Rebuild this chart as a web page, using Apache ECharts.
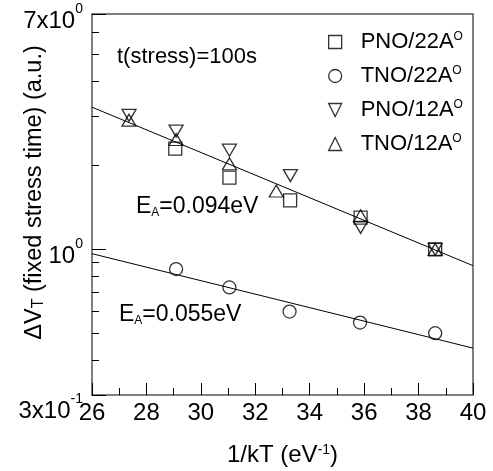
<!DOCTYPE html>
<html>
<head>
<meta charset="utf-8">
<script src="https://cdn.jsdelivr.net/npm/echarts@6/dist/echarts.min.js"></script>
<style>
  html, body { margin: 0; padding: 0; background: #fff; }
  #chart { width: 493px; height: 471px; }
</style>
</head>
<body>
<div id="chart"></div>
<script>
// Threshold-voltage shift after a fixed 100 s stress versus 1/kT, log scale.
const seriesNames = ['PNO/22A', 'TNO/22A', 'PNO/12A', 'TNO/12A'];

// [1/kT (eV^-1), dVT (a.u.)]
const pno22 = [[29.06, 2.30], [31.05, 1.81], [33.28, 1.50], [35.87, 1.30], [38.61, 1.00]];
const tno22 = [[29.09, 0.85], [31.05, 0.73], [33.26, 0.598], [35.85, 0.546], [38.61, 0.50]];
const pno12 = [[27.36, 3.03], [29.09, 2.66], [31.05, 2.27], [33.29, 1.84], [35.87, 1.20], [38.61, 1.00]];
const tno12 = [[27.36, 2.91], [29.09, 2.48], [31.05, 2.03], [32.77, 1.62], [35.87, 1.32], [38.61, 1.00]];

// Arrhenius fits (end points over the axis range)
const fitHigh = [[26, 3.24], [40, 0.874]];   // EA = 0.094 eV
const fitLow = [[26, 0.965], [40, 0.442]];   // EA = 0.055 eV

const xMin = 26, xMax = 40, xStep = 2;
const yMin = 0.3, yMax = 7;
const yMajorTicks = [0.3, 1, 7];
const yMinorTicks = [0.4, 0.5, 0.6, 0.7, 0.8, 0.9, 2, 3, 4, 5, 6];
const yTickMantissa = ['3x10', '10', '7x10'];
const yTickExponent = ['-1', '0', '0'];

const FONT = '"Liberation Sans", Arial, sans-serif';
const AXIS_GRAY = '#555';

function yLabel(value) {
  const i = yMajorTicks.findIndex(v => Math.abs(v - value) < 1e-6);
  if (i < 0) return '';
  const low = i === 0;
  return '{' + (low ? 'mb' : 'm') + '|' + yTickMantissa[i] + '}{' + (low ? 'sb' : 's') + '|' + yTickExponent[i] + '}';
}

const hollow = { color: 'rgba(0,0,0,0)', borderColor: '#000', borderWidth: 1.3 };
const downTriangle = 'path://M0,0L10,0L5,10Z';

function scatter(name, data, symbol, size) {
  return {
    name, type: 'scatter', data, symbol, symbolSize: size,
    itemStyle: hollow, emphasis: { disabled: true }, z: 3
  };
}
function fitLine(data) {
  return {
    type: 'line', data, symbol: 'none', silent: true,
    lineStyle: { color: '#000', width: 1 }, z: 2
  };
}

const chart = echarts.init(document.getElementById('chart'), null, { renderer: 'canvas' });
chart.setOption({
  animation: false,
  backgroundColor: '#fff',
  textStyle: { fontFamily: FONT, color: '#000' },
  grid: {
    left: 92, right: 20, top: 14, bottom: 76,
    containLabel: false, outerBoundsMode: 'none',
    show: true, borderColor: AXIS_GRAY, borderWidth: 1.5, backgroundColor: 'transparent'
  },
  legend: {
    orient: 'vertical', left: 323, top: 26,
    itemWidth: 13, itemHeight: 13, itemGap: 12,
    data: [
      { name: seriesNames[0], icon: 'rect' },
      { name: seriesNames[1], icon: 'circle' },
      { name: seriesNames[2], icon: downTriangle },
      { name: seriesNames[3], icon: 'triangle' }
    ],
    itemStyle: { color: 'rgba(0,0,0,0)', borderColor: '#000', borderWidth: 1.3 },
    formatter: name => '{n|' + name + '}{o|O}',
    textStyle: {
      fontFamily: FONT, color: '#000',
      rich: {
        n: { fontFamily: FONT, fontSize: 22, lineHeight: 22, padding: [0, 0, 0, 14], color: '#000' },
        o: { fontFamily: FONT, fontSize: 12, lineHeight: 6, verticalAlign: 'top', color: '#000' }
      }
    },
    selectedMode: false
  },
  xAxis: {
    type: 'value', min: xMin, max: xMax, interval: xStep,
    name: '{m|1/kT (eV}{s|-1}{m|)}', nameLocation: 'middle', nameGap: 48,
    nameMoveOverlap: false,
    nameTextStyle: {
      rich: {
        m: { fontFamily: FONT, fontSize: 24, lineHeight: 24, color: '#000' },
        s: { fontFamily: FONT, fontSize: 14, lineHeight: 8, verticalAlign: 'top', color: '#000' }
      }
    },
    axisLine: { show: false },
    axisTick: { inside: true, length: 12, lineStyle: { color: '#000', width: 1 } },
    minorTick: { show: true, splitNumber: 2, length: 7, lineStyle: { color: '#000', width: 1 } },
    axisLabel: { fontFamily: FONT, fontSize: 24, color: '#000', margin: 6, showMinLabel: true, showMaxLabel: true },
    splitLine: { show: false }, minorSplitLine: { show: false }
  },
  yAxis: [
    {
      type: 'log', logBase: 10, min: yMin, max: yMax, position: 'left',
      name: '{m|ΔV}{t|T}{m| (fixed stress time) (a.u.)}',
      nameLocation: 'middle', nameRotate: 90, nameGap: 45,
      nameMoveOverlap: false,
      nameTextStyle: {
        padding: [0, 0, 0, 24],
        rich: {
          m: { fontFamily: FONT, fontSize: 23.5, lineHeight: 24, color: '#000' },
          t: { fontFamily: FONT, fontSize: 16, lineHeight: 12, verticalAlign: 'bottom', color: '#000' }
        }
      },
      axisLine: { show: false },
      axisTick: { inside: true, length: 14, customValues: yMajorTicks, lineStyle: { color: '#000', width: 1 } },
      axisLabel: {
        customValues: yMajorTicks, formatter: yLabel, margin: 9,
        rich: {
          m: { fontFamily: FONT, fontSize: 24, lineHeight: 24, padding: [7, 0, 0, 0], verticalAlign: 'top', color: '#000' },
          s: { fontFamily: FONT, fontSize: 14, lineHeight: 14, padding: [0, 0, 0, 0], verticalAlign: 'top', color: '#000' },
          mb: { fontFamily: FONT, fontSize: 24, lineHeight: 24, padding: [16, 0, 0, 0], verticalAlign: 'top', color: '#000' },
          sb: { fontFamily: FONT, fontSize: 14, lineHeight: 14, padding: [9, 0, 0, 0], verticalAlign: 'top', color: '#000' }
        }
      },
      splitLine: { show: false }
    },
    {
      type: 'log', logBase: 10, min: yMin, max: yMax, position: 'left',
      axisLine: { show: false },
      axisTick: { inside: true, length: 7, customValues: yMinorTicks, lineStyle: { color: '#000', width: 1 } },
      axisLabel: { show: false },
      splitLine: { show: false }
    }
  ],
  graphic: [
    {
      type: 'text', x: 117, y: 57, silent: true,
      style: { text: 't(stress)=100s', fontFamily: FONT, fontSize: 22, fill: '#000', verticalAlign: 'middle' }
    },
    {
      type: 'text', x: 136, y: 207, silent: true,
      style: {
        text: '{m|E}{a|A}{m|=0.094eV}', verticalAlign: 'middle',
        rich: {
          m: { fontFamily: FONT, fontSize: 23, lineHeight: 24, fill: '#000' },
          a: { fontFamily: FONT, fontSize: 12, lineHeight: 5, verticalAlign: 'bottom', fill: '#000' }
        }
      }
    },
    {
      type: 'text', x: 119, y: 315, silent: true,
      style: {
        text: '{m|E}{a|A}{m|=0.055eV}', verticalAlign: 'middle',
        rich: {
          m: { fontFamily: FONT, fontSize: 23, lineHeight: 24, fill: '#000' },
          a: { fontFamily: FONT, fontSize: 12, lineHeight: 5, verticalAlign: 'bottom', fill: '#000' }
        }
      }
    }
  ],
  series: [
    fitLine(fitHigh),
    fitLine(fitLow),
    scatter(seriesNames[0], pno22, 'rect', 13),
    scatter(seriesNames[1], tno22, 'circle', 13),
    scatter(seriesNames[2], pno12, downTriangle, [14, 12]),
    scatter(seriesNames[3], tno12, 'triangle', [14, 12])
  ]
});
</script>
</body>
</html>
